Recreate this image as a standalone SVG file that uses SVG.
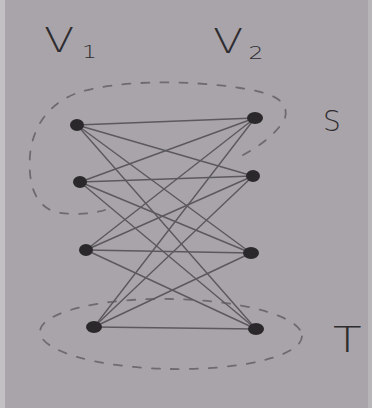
<svg xmlns="http://www.w3.org/2000/svg" width="372" height="408" viewBox="0 0 372 408">
<style>
.edge{stroke:#5c595d;stroke-width:1.4;fill:none;stroke-linecap:round}
.node{fill:#2a282a}
.set{fill:none;stroke:#6e6a6f;stroke-width:1.8;stroke-dasharray:8 11;stroke-linecap:round}
.lbl{font-family:"DejaVu Sans","Liberation Sans",sans-serif;font-weight:200;fill:#2e2c2f}
</style>
<rect x="0" y="0" width="372" height="408" fill="#a8a4a9"/>
<rect x="0" y="0" width="5" height="408" fill="#c4c1c5"/>
<rect x="368" y="0" width="4" height="408" fill="#b8b5b9"/>
<g id="sets">
<path id="S" class="set" d="M243,155 C262,145 278,132 285,118 C290,100 270,92 240,88 C190,80 120,80 80,92 C50,102 33,125 30,155 C28,185 35,205 55,212 C75,216 95,213 105,210"/>
<ellipse id="T" class="set" cx="171" cy="334" rx="131" ry="35" transform="rotate(1 171 334)"/>
</g>
<g id="edges">
<line class="edge" x1="77" y1="125" x2="255" y2="118"/>
<line class="edge" x1="77" y1="125" x2="253" y2="176"/>
<line class="edge" x1="77" y1="125" x2="251" y2="253"/>
<line class="edge" x1="77" y1="125" x2="256" y2="329"/>
<line class="edge" x1="80" y1="182" x2="255" y2="118"/>
<line class="edge" x1="80" y1="182" x2="253" y2="176"/>
<line class="edge" x1="80" y1="182" x2="251" y2="253"/>
<line class="edge" x1="80" y1="182" x2="256" y2="329"/>
<line class="edge" x1="86" y1="250" x2="255" y2="118"/>
<line class="edge" x1="86" y1="250" x2="253" y2="176"/>
<line class="edge" x1="86" y1="250" x2="251" y2="253"/>
<line class="edge" x1="86" y1="250" x2="256" y2="329"/>
<line class="edge" x1="94" y1="327" x2="255" y2="118"/>
<line class="edge" x1="94" y1="327" x2="253" y2="176"/>
<line class="edge" x1="94" y1="327" x2="251" y2="253"/>
<line class="edge" x1="94" y1="327" x2="256" y2="329"/>
</g>
<g id="a1"><ellipse class="node" cx="77" cy="125" rx="7" ry="6"/></g>
<g id="a2"><ellipse class="node" cx="80" cy="182" rx="7" ry="6"/></g>
<g id="a3"><ellipse class="node" cx="86" cy="250" rx="7" ry="6"/></g>
<g id="a4"><ellipse class="node" cx="94" cy="327" rx="8" ry="6"/></g>
<g id="b1"><ellipse class="node" cx="255" cy="118" rx="8" ry="6"/></g>
<g id="b2"><ellipse class="node" cx="253" cy="176" rx="7" ry="6"/></g>
<g id="b3"><ellipse class="node" cx="251" cy="253" rx="8" ry="6"/></g>
<g id="b4"><ellipse class="node" cx="256" cy="329" rx="8" ry="6"/></g>
<g id="labels">
<text class="lbl" transform="translate(44,52) scale(1.3,1)" font-size="34">V<tspan font-size="18" dx="6" dy="6">1</tspan></text>
<text class="lbl" transform="translate(213,53) scale(1.3,1)" font-size="34">V<tspan font-size="18" dx="4" dy="6">2</tspan></text>
<text class="lbl" x="323" y="131" font-size="28">S</text>
<text class="lbl" transform="translate(333,352) scale(1.3,1)" font-size="36">T</text>
</g>
</svg>
